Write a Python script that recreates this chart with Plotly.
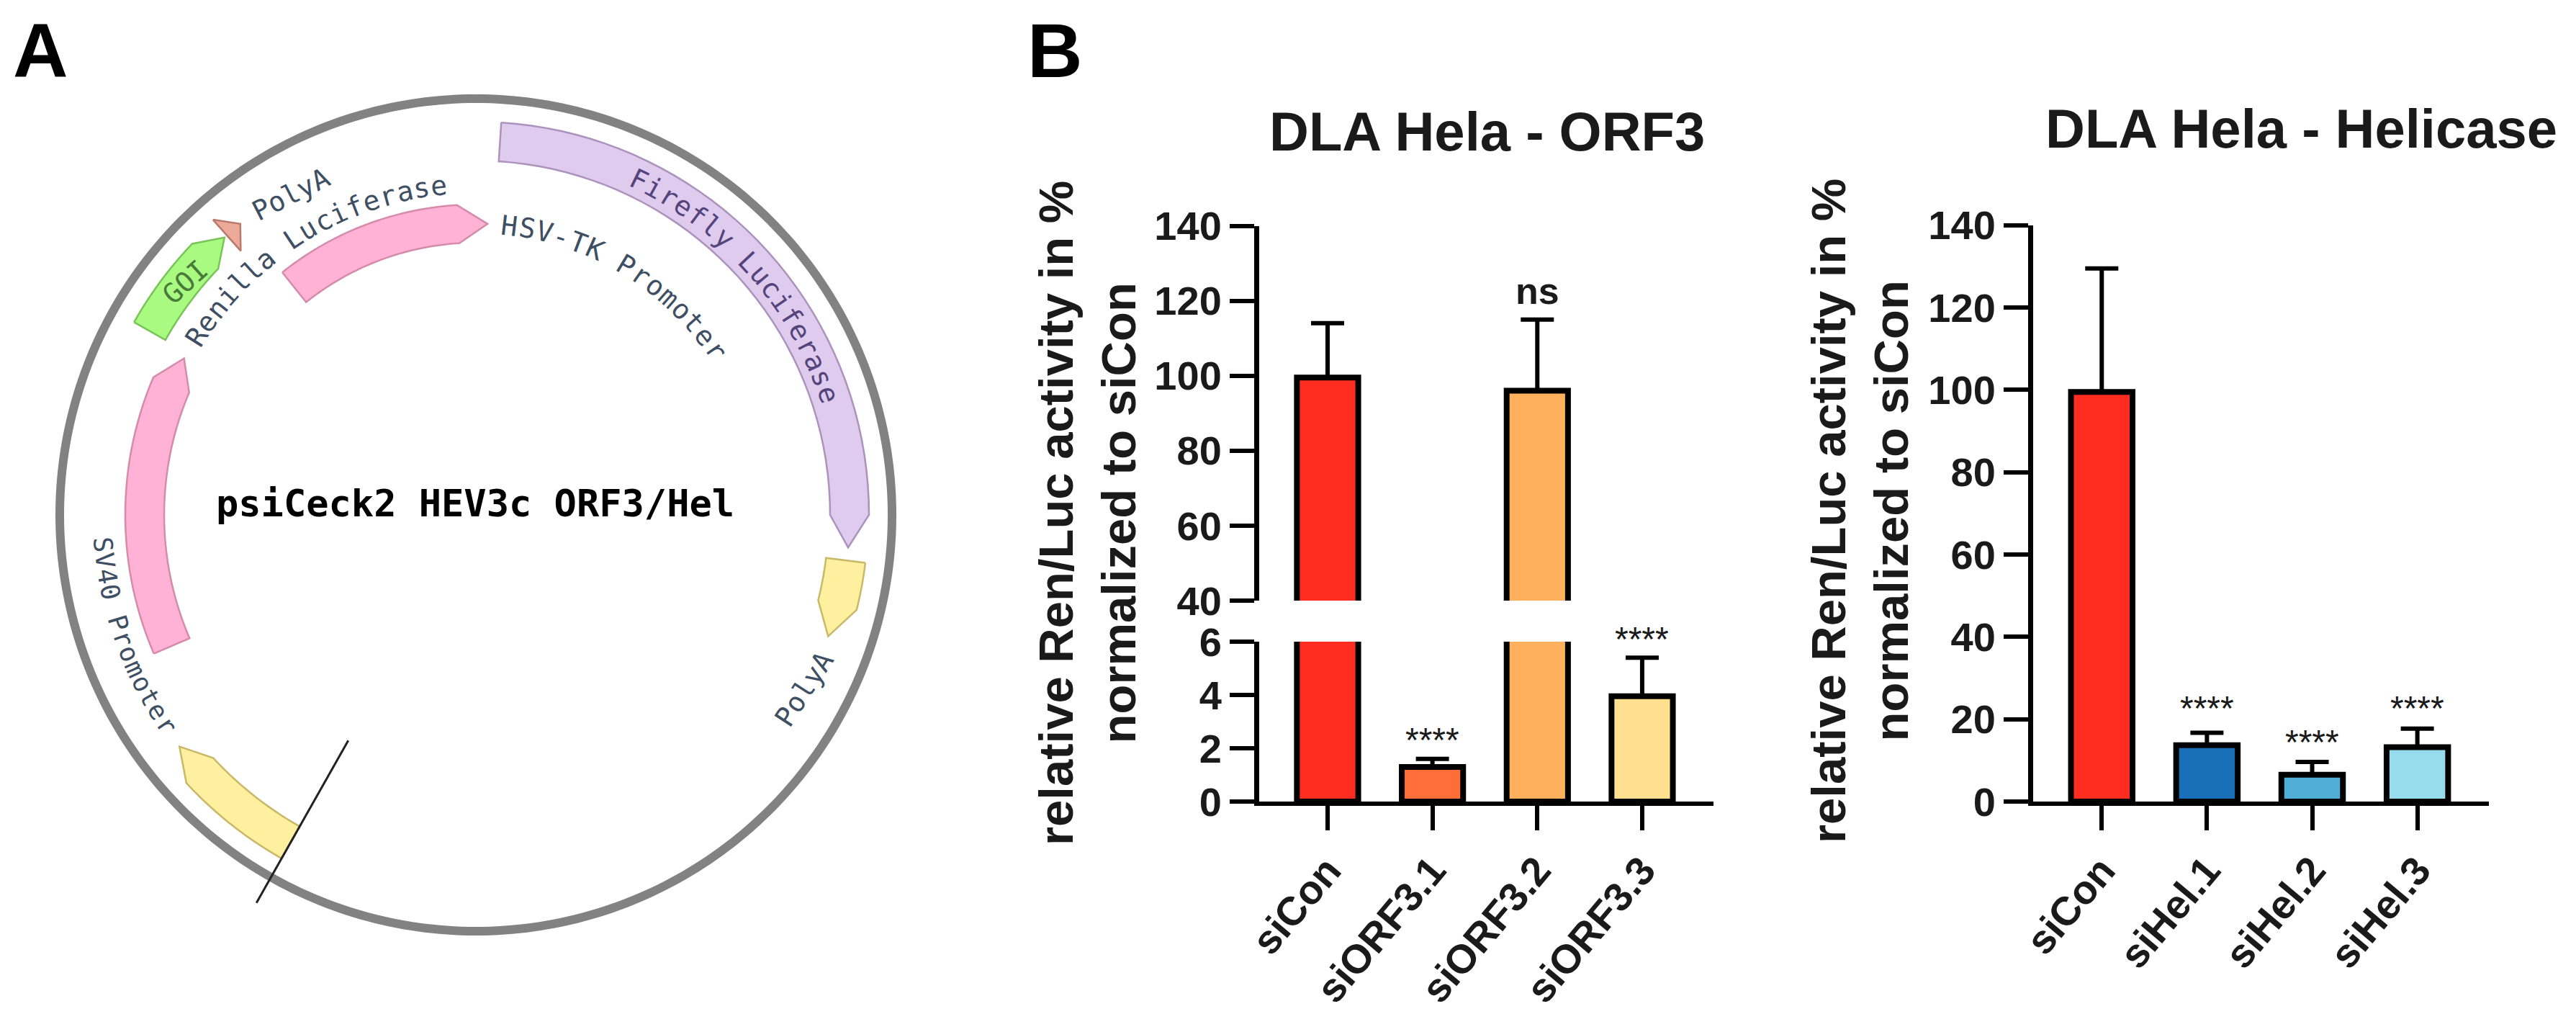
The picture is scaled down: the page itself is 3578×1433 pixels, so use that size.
import numpy as np
import plotly.graph_objects as go

W, H = 3578, 1433

# ---- Panel B data ----
orf3_labels = ["siCon", "siORF3.1", "siORF3.2", "siORF3.3"]
orf3_means = [99.5, 1.3, 96, 3.95]
orf3_errors = [14.5, 0.3, 19, 1.45]
orf3_colors = ["#FF2D20", "#FF6E38", "#FFB05C", "#FFE08E"]
hel_labels = ["siCon", "siHel.1", "siHel.2", "siHel.3"]
hel_means = [99.5, 13.7, 6.5, 13.2]
hel_errors = [30, 3, 3.1, 4.5]
hel_colors = ["#FF2D20", "#1A70B8", "#4FAED6", "#96DCEC"]
ytitle = "relative Ren/Luc activity in %<br>normalized to siCon"

# ---- Panel A plasmid features: start/end/tip angle (deg clockwise from north), inner/outer radius ----
f_names = ["Firefly Luciferase", "PolyA", "Renilla Luciferase", "SV40 Promoter", "GOI", "PolyA 2", "Yellow promoter"]
f_start = [3.7, 97, -38.6, -113.3, -60.6, -41.7, -150.5]
f_end = [90, 104, -3.5, -66.9, -46.3, -41.7, -132.8]
f_tip = [95, 109, 2.3, -61.8, -42.2, -39, -128]
f_inner = [492, 490, 378, 433, 495, 491, 497]
f_outer = [546, 545, 431, 487, 545, 549, 548]
f_fill = ["#DFCBEE", "#FFF0A0", "#FFB2D6", "#FFB2D6", "#A8FB80", "#EBAA9A", "#FFF0A0"]
f_edge = ["#AC93BE", "#C9B868", "#D48CA8", "#D48CA8", "#79C458", "#B97A6C", "#C9B868"]

CX, CY, PR = 661, 715, 640
RING_R = 578


def px(x):
    return x / W


def py(y):
    return 1 - y / H


FAM = "Liberation Sans"
MONO = "DejaVu Sans Mono"

fig = go.Figure()

# ---- plasmid ring and features ----
ring_t = np.linspace(0, 360, 361)
fig.add_trace(go.Scatterpolar(r=[RING_R] * 361, theta=ring_t, mode="lines",
                              line=dict(color="#828282", width=12), hoverinfo="skip", subplot="polar"))
for i, name in enumerate(f_names):
    arc = np.linspace(f_start[i], f_end[i], 40)
    mid = (f_inner[i] + f_outer[i]) / 2
    th = list(arc) + [f_tip[i]] + list(arc[::-1]) + [f_start[i]]
    rr = [f_outer[i]] * 40 + [mid] + [f_inner[i]] * 40 + [f_outer[i]]
    fig.add_trace(go.Scatterpolar(r=rr, theta=th, mode="lines", fill="toself", fillcolor=f_fill[i],
                                  line=dict(color=f_edge[i], width=2.5), name=name, subplot="polar"))
fig.add_trace(go.Scatterpolar(r=[360, 619], theta=[-150.5, -150.5], mode="lines",
                              line=dict(color="#222222", width=3), hoverinfo="skip", subplot="polar"))

# ---- bars ----
def bars(x, y, err, colors, xa, ya, with_err=True):
    e = None
    if with_err:
        e = dict(type="data", symmetric=False, array=err, arrayminus=[0] * len(err),
                 thickness=6, width=23, color="black")
    return go.Bar(x=x, y=y, marker=dict(color=colors, line=dict(color="black", width=8)),
                  width=0.585, error_y=e, xaxis=xa, yaxis=ya)


orf3_low_err = [e if m < 6 else 0 for m, e in zip(orf3_means, orf3_errors)]
orf3_top = [m if m >= 40 else None for m in orf3_means]
fig.add_trace(bars(orf3_labels, orf3_means, orf3_low_err, orf3_colors, "x", "y"))
fig.add_trace(bars(orf3_labels, orf3_top, orf3_errors, orf3_colors, "x2", "y2"))
fig.add_trace(bars(hel_labels, hel_means, hel_errors, hel_colors, "x3", "y3"))

tick_font = dict(family=FAM, size=56, color="#1a1a1a", weight=700)
xrange_ = [-0.652, 3.68]


def yax(dom, rng, vals, xa):
    return dict(domain=[py(dom[0]), py(dom[1])], range=rng, tickmode="array", tickvals=vals, automargin=False,
                ticks="outside", ticklen=34, tickwidth=6, tickcolor="black", showline=True,
                linecolor="black", linewidth=7, showgrid=False, zeroline=False, anchor=xa, tickfont=tick_font)


def xax(dom, ya, visible=True):
    return dict(domain=[px(dom[0]), px(dom[1])], range=xrange_, type="category", anchor=ya, visible=visible,
                automargin=False, ticks="outside", ticklen=34, tickwidth=6, tickcolor="black", showline=True,
                linecolor="black", linewidth=6, showgrid=False, zeroline=False, tickangle=-50, tickfont=tick_font)


annots = []


def note(text, x, y, size=None, bold=False, fam=MONO, color="#3F4F63", angle=0, **kw):
    t = f"<b>{text}</b>" if bold else text
    annots.append(dict(text=t, x=px(x), y=py(y), xref="paper", yref="paper", showarrow=False,
                       xanchor="center", yanchor="middle", textangle=angle,
                       font=dict(family=fam, size=size, color=color), **kw))


def arc_text(text, a0, a1, r, size, color="#3F4F63", flip=False):
    n = len(text)
    for i, ch in enumerate(text):
        if ch == " ":
            continue
        a = a0 + (a1 - a0) * (i + 0.5) / n
        rad = np.radians(a)
        note(ch, CX + r * np.sin(rad), CY - r * np.cos(rad), size=size, color=color,
             angle=(a + 180 if flip else a))


arc_text("Firefly Luciferase", 24.6, 72.4, 517, 38, color="#54447C")
arc_text("Renilla Luciferase", -59, -4.9, 460, 38)
arc_text("HSV-TK Promoter", 4.9, 57.3, 404, 38)
arc_text("SV40 Promoter", -93.3, -125.4, 519, 36, flip=True)
note("PolyA", 404, 270, size=38, angle=-27)
note("PolyA", 1117, 957, size=38, angle=-57)
note("GOI", 257, 392, size=38, angle=-42, color="#4A7A3A")
note("psiCeck2 HEV3c ORF3/Hel", 660, 699, size=52, bold=True, color="#000000")
note("A", 56, 70, size=106, bold=True, fam=FAM, color="#000000")
note("B", 1465, 70, size=106, bold=True, fam=FAM, color="#000000")
note("DLA Hela - ORF3", 2065, 182, size=76, bold=True, fam=FAM, color="#1a1a1a")
note("DLA Hela - Helicase", 3196, 178, size=76, bold=True, fam=FAM, color="#1a1a1a")
note(ytitle, 1510, 713, size=67, bold=True, fam=FAM, color="#1a1a1a", angle=-90)
note(ytitle, 2583, 710, size=67, bold=True, fam=FAM, color="#1a1a1a", angle=-90)


def sig(text, xval, yval, xr, yr, shift, size=48, bold=False):
    t = f"<b>{text}</b>" if bold else text
    annots.append(dict(text=t, x=xval, y=yval, xref=xr, yref=yr, showarrow=False, yanchor="middle",
                       yshift=shift, font=dict(family=FAM, size=size, color="#1a1a1a")))


sig("****", "siORF3.1", orf3_means[1] + orf3_errors[1], "x", "y", 26)
sig("****", "siORF3.3", orf3_means[3] + orf3_errors[3], "x", "y", 26)
sig("ns", "siORF3.2", orf3_means[2] + orf3_errors[2], "x2", "y2", 40, size=52, bold=True)
sig("****", "siHel.1", hel_means[1] + hel_errors[1], "x3", "y3", 34)
sig("****", "siHel.2", hel_means[2] + hel_errors[2], "x3", "y3", 28)
sig("****", "siHel.3", hel_means[3] + hel_errors[3], "x3", "y3", 28)

fig.update_layout(
    width=W, height=H, margin=dict(l=0, r=0, t=0, b=0), showlegend=False,
    paper_bgcolor="white", plot_bgcolor="rgba(0,0,0,0)", barmode="overlay",
    polar=dict(domain=dict(x=[px(CX - PR), px(CX + PR)], y=[py(CY + PR), py(CY - PR)]),
               bgcolor="rgba(0,0,0,0)",
               radialaxis=dict(visible=False, range=[0, PR]),
               angularaxis=dict(visible=False, direction="clockwise", rotation=90)),
    xaxis=xax((1749, 2380), "y"),
    yaxis=yax((1113, 891), [0, 6], [0, 2, 4, 6], "x"),
    xaxis2=xax((1749, 2380), "y2", visible=False),
    yaxis2=yax((834, 313.5), [40, 140], [40, 60, 80, 100, 120, 140], "x2"),
    xaxis3=xax((2824, 3457), "y3"),
    yaxis3=yax((1113, 312.6), [0, 140], [0, 20, 40, 60, 80, 100, 120, 140], "x3"),
    annotations=annots,
)
fig.write_html("out.html", post_script="document.body.style.margin='0';", config={"displayModeBar": False})
